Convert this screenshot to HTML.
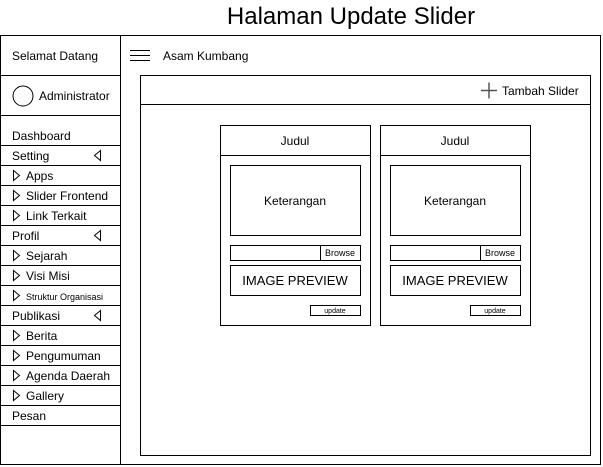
<!DOCTYPE html>
<html><head><meta charset="utf-8"><style>
html,body{margin:0;padding:0;background:#fff;width:603px;height:467px;overflow:hidden}
svg{display:block}
text{font-family:"Liberation Sans",Arial,sans-serif;fill:#000}
</style></head><body>
<svg width="603" height="467" viewBox="0 0 603 467" xmlns="http://www.w3.org/2000/svg">
<text x="351" y="24" font-size="24" text-anchor="middle">Halaman Update Slider</text>
<g fill="none" stroke="#000" stroke-width="1">
<rect x="0.5" y="35.5" width="600" height="429"/>
<line x1="120.5" y1="35" x2="120.5" y2="465"/>
<line x1="0" y1="75.5" x2="120" y2="75.5"/>
<line x1="0" y1="115.5" x2="120" y2="115.5"/>
<line x1="0" y1="145.5" x2="120" y2="145.5"/>
<line x1="0" y1="165.5" x2="120" y2="165.5"/>
<line x1="0" y1="185.5" x2="120" y2="185.5"/>
<line x1="0" y1="205.5" x2="120" y2="205.5"/>
<line x1="0" y1="225.5" x2="120" y2="225.5"/>
<line x1="0" y1="245.5" x2="120" y2="245.5"/>
<line x1="0" y1="265.5" x2="120" y2="265.5"/>
<line x1="0" y1="285.5" x2="120" y2="285.5"/>
<line x1="0" y1="305.5" x2="120" y2="305.5"/>
<line x1="0" y1="325.5" x2="120" y2="325.5"/>
<line x1="0" y1="345.5" x2="120" y2="345.5"/>
<line x1="0" y1="365.5" x2="120" y2="365.5"/>
<line x1="0" y1="385.5" x2="120" y2="385.5"/>
<line x1="0" y1="405.5" x2="120" y2="405.5"/>
<line x1="0" y1="425.5" x2="120" y2="425.5"/>
<circle cx="23" cy="96" r="10"/>
<rect x="140.5" y="75.5" width="450" height="380"/>
<line x1="140" y1="104.5" x2="590" y2="104.5"/>
<line x1="130" y1="50.5" x2="150" y2="50.5"/>
<line x1="130" y1="55.5" x2="150" y2="55.5"/>
<line x1="130" y1="60.5" x2="150" y2="60.5"/>
<line x1="481" y1="90.5" x2="497" y2="90.5" stroke="#555" stroke-width="1.5"/>
<line x1="489" y1="82.5" x2="489" y2="98.5" stroke="#555" stroke-width="1.5"/>
<!-- triangles -->
<path d="M100.5 150.5 L94.5 155.5 L100.5 160.5 Z"/>
<path d="M100.5 230.5 L94.5 235.5 L100.5 240.5 Z"/>
<path d="M100.5 310.5 L94.5 315.5 L100.5 320.5 Z"/>
<path d="M13.5 170.5 L19.5 175.5 L13.5 180.5 Z"/>
<path d="M13.5 190.5 L19.5 195.5 L13.5 200.5 Z"/>
<path d="M13.5 210.5 L19.5 215.5 L13.5 220.5 Z"/>
<path d="M13.5 250.5 L19.5 255.5 L13.5 260.5 Z"/>
<path d="M13.5 270.5 L19.5 275.5 L13.5 280.5 Z"/>
<path d="M13.5 290.5 L19.5 295.5 L13.5 300.5 Z"/>
<path d="M13.5 330.5 L19.5 335.5 L13.5 340.5 Z"/>
<path d="M13.5 350.5 L19.5 355.5 L13.5 360.5 Z"/>
<path d="M13.5 370.5 L19.5 375.5 L13.5 380.5 Z"/>
<path d="M13.5 390.5 L19.5 395.5 L13.5 400.5 Z"/>
</g>
<g font-size="12">
<text x="12" y="60">Selamat Datang</text>
<text x="39" y="100">Administrator</text>
<text x="12" y="140">Dashboard</text>
<text x="12" y="160">Setting</text>
<text x="26" y="180">Apps</text>
<text x="26" y="200">Slider Frontend</text>
<text x="26" y="220">Link Terkait</text>
<text x="12" y="240">Profil</text>
<text x="26" y="260">Sejarah</text>
<text x="26" y="280">Visi Misi</text>
<text x="26" y="300" font-size="9">Struktur Organisasi</text>
<text x="12" y="320">Publikasi</text>
<text x="26" y="340">Berita</text>
<text x="26" y="360">Pengumuman</text>
<text x="26" y="380">Agenda Daerah</text>
<text x="26" y="400">Gallery</text>
<text x="12" y="420">Pesan</text>
<text x="163" y="60">Asam Kumbang</text>
<text x="502" y="95">Tambah Slider</text>
</g>
<g id="card">
<g fill="none" stroke="#000">
<rect x="220.5" y="125.5" width="150" height="200"/>
<line x1="220" y1="155.5" x2="370" y2="155.5"/>
<rect x="230.5" y="165.5" width="130" height="70"/>
<rect x="230.5" y="245.5" width="130" height="15"/>
<line x1="320.5" y1="245" x2="320.5" y2="260"/>
<rect x="230.5" y="265.5" width="130" height="30"/>
<rect x="310.5" y="305.5" width="50" height="10"/>
</g>
<text x="295" y="145" font-size="12" text-anchor="middle">Judul</text>
<text x="295" y="205" font-size="12" text-anchor="middle">Keterangan</text>
<text x="340" y="256" font-size="9" text-anchor="middle">Browse</text>
<text x="295" y="285" font-size="13" text-anchor="middle" fill="#222">IMAGE PREVIEW</text>
<text x="335" y="313" font-size="7" text-anchor="middle" fill="#777">update</text>
</g>
<use href="#card" x="160" y="0"/>
</svg>
</body></html>
